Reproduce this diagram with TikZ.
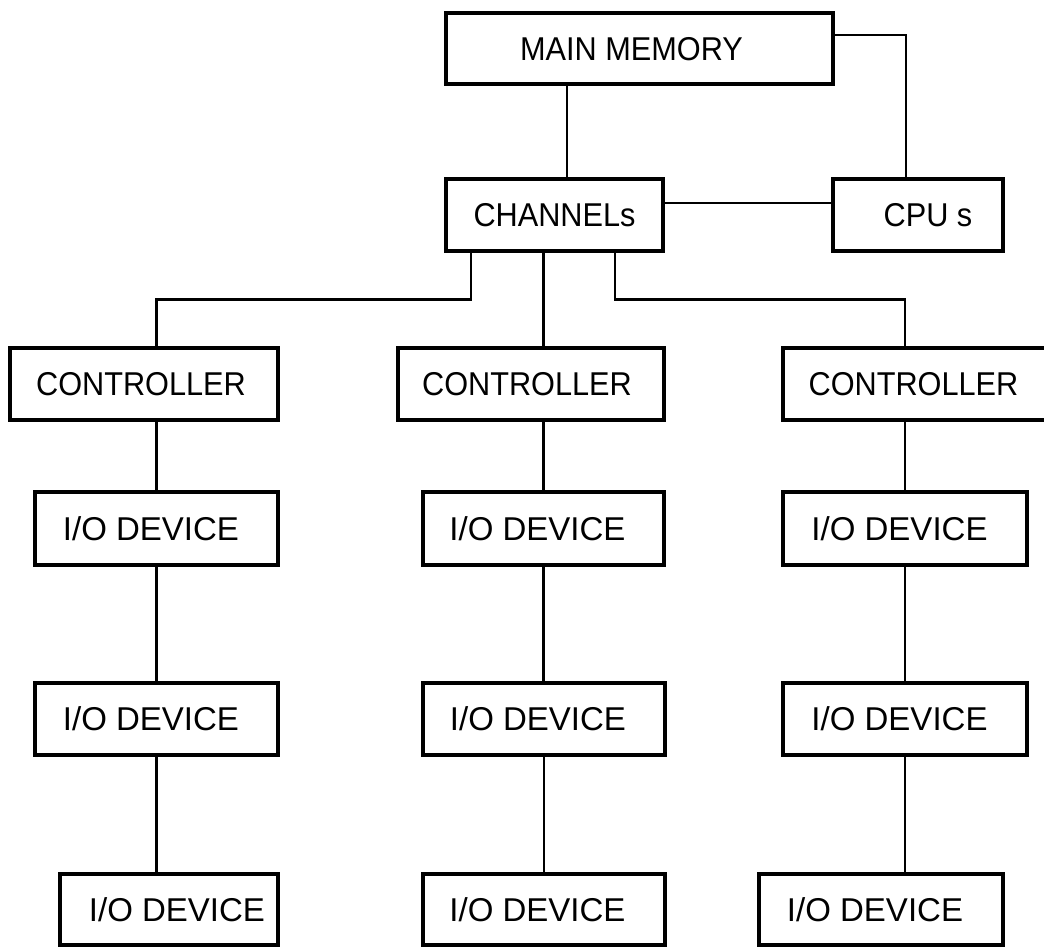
\documentclass[tikz,border=0pt]{standalone}
\usepackage{fontspec}
\setmainfont[FakeStretch=0.93]{Liberation Sans}
\newfontfamily\iofont{Liberation Sans}
\begin{document}
\begin{tikzpicture}[x=1pt,y=-1pt,
  box/.style={draw, line width=3.2pt, inner sep=0pt, minimum height=72pt,
    text height=23.6pt, text depth=0pt, font=\fontsize{33}{40}\selectfont},
  link/.style={line width=2.6pt}]
\useasboundingbox (0,0) rectangle (1044,946);
\clip (0,0) rectangle (1044,946);
\newcommand{\iotext}[1]{\iofont\hspace*{#1pt}I/O DEVICE}
% top
\node[box, minimum width=387pt, minimum height=71pt] (mm) at (639.5,48.5) {\hspace*{-16pt}MAIN MEMORY};
\node[box, minimum width=217pt] (ch) at (554.5,215) {CHANNELs};
\node[box, minimum width=170pt] (cpu) at (918,215) {\hspace*{20pt}CPU s};
% controllers
\node[box, minimum width=268pt] (c1) at (144,384) {\hspace*{-6pt}CONTROLLER};
\node[box, minimum width=266pt] (c2) at (531,384) {\hspace*{-8pt}CONTROLLER};
\node[box, minimum width=266pt] (c3) at (916,384) {\hspace*{-5pt}CONTROLLER};
% I/O row 1
\node[box, minimum width=243pt, minimum height=73pt] (io1a) at (156.5,528.5) {\iotext{-11}};
\node[box, minimum width=241pt, minimum height=73pt] (io2a) at (543.5,528.5) {\iotext{-12}};
\node[box, minimum width=244pt, minimum height=73pt] (io3a) at (905,528.5) {\iotext{-11}};
% I/O row 2
\node[box, minimum width=243pt] (io1b) at (156.5,719) {\iotext{-11}};
\node[box, minimum width=242pt] (io2b) at (544,719) {\iotext{-12}};
\node[box, minimum width=244pt] (io3b) at (905,719) {\iotext{-11}};
% I/O row 3
\node[box, minimum width=218pt, minimum height=71pt] (io1c) at (169,909.5) {\iotext{16}};
\node[box, minimum width=242pt, minimum height=71pt] (io2c) at (544,909.5) {\iotext{-13}};
\node[box, minimum width=244pt, minimum height=71pt] (io3c) at (881,909.5) {\iotext{-12}};
% connectors top
\draw[link] ([xshift=12.5pt]ch.north) -- ([xshift=12.5pt]ch.north |- mm.south);
\draw[link] ([yshift=13.5pt]mm.east) -| ([xshift=-12pt]cpu.north);
\draw[link] ([yshift=12pt]ch.east) -- ([yshift=12pt]ch.east -| cpu.west);
% branches
\draw[link] ([xshift=-83.5pt]ch.south) -- ++(0,47) -| (io1a.north |- c1.north);
\draw[link] ([xshift=-11pt]ch.south) -- (io2a.north |- c2.north);
\draw[link] ([xshift=60.5pt]ch.south) -- ++(0,47) -| (io3a.north |- c3.north);
% columns
\draw[link] (io1a.north |- c1.south) -- (io1a.north);
\draw[link] (io2a.north |- c2.south) -- (io2a.north);
\draw[link] (io3a.north |- c3.south) -- (io3a.north);
\draw[link] (io1a.south) -- (io1b.north);
\draw[link] (io2a.south) -- (io2a.south |- io2b.north);
\draw[link] (io3a.south) -- (io3b.north);
\draw[link] (io1b.south) -- (io1b.south |- io1c.north);
\draw[link] (io2b.south) -- (io2c.north);
\draw[link] (io3b.south) -- (io3b.south |- io3c.north);
\end{tikzpicture}
\end{document}
